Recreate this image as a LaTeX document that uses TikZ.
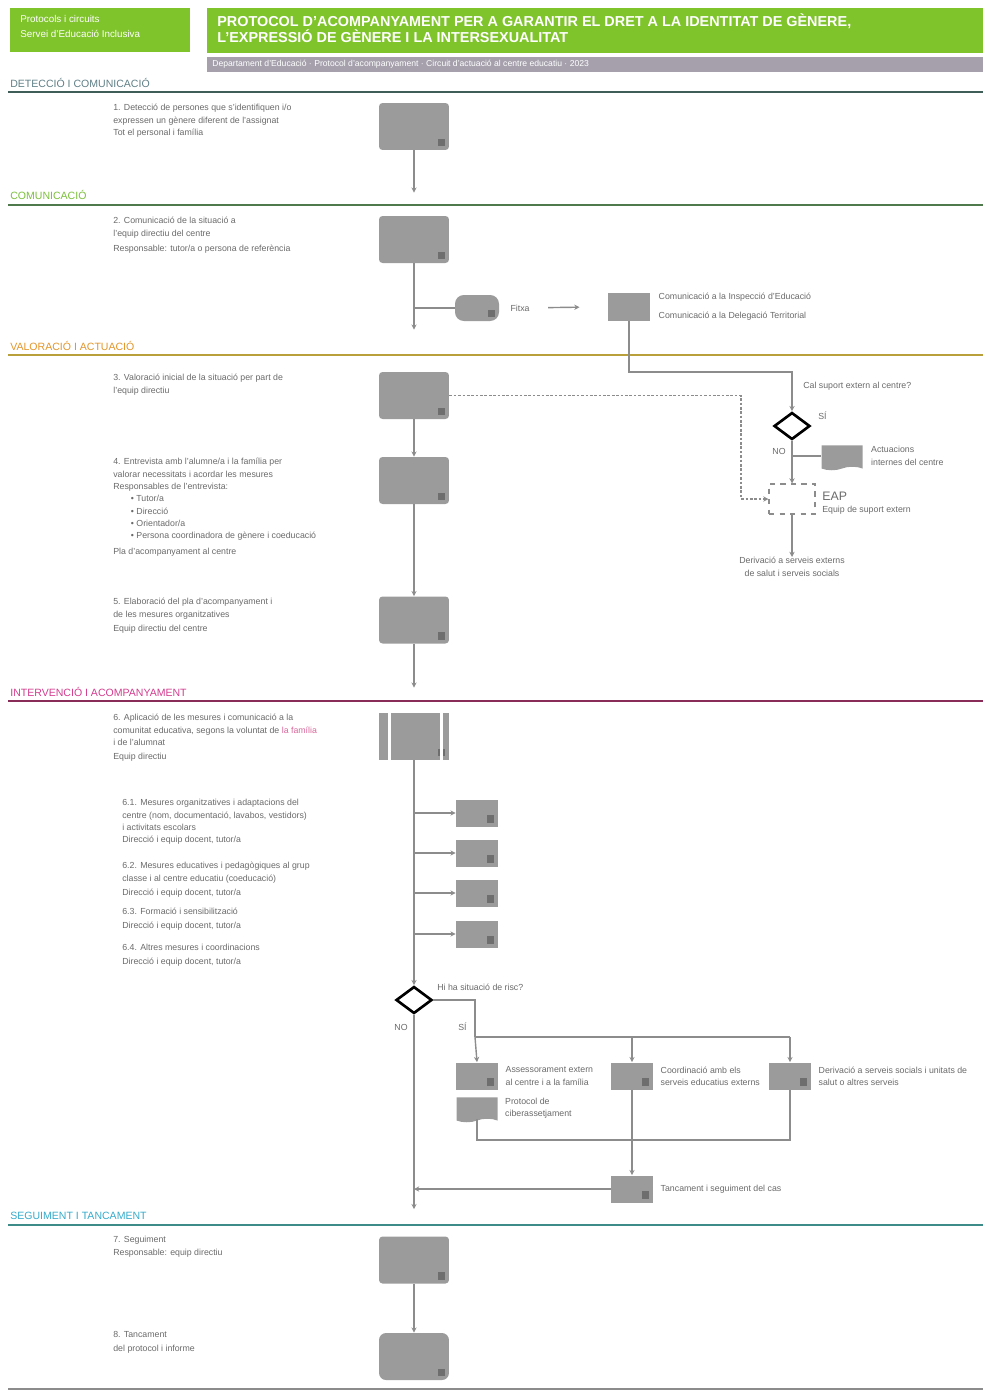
\documentclass[tikz,border=0pt]{standalone}
\usepackage{fontspec}
\setmainfont{Liberation Sans}
\usepackage{xcolor}
\definecolor{protGreen}{HTML}{7FC42B}
\definecolor{protBar}{HTML}{A5A0AC}
\definecolor{boxGray}{HTML}{9B9B9B}
\definecolor{iconGray}{HTML}{6E6E6E}
\definecolor{lineGray}{HTML}{8C8C8C}
\definecolor{textGray}{HTML}{6A6A6A}
\definecolor{secTeal}{HTML}{3F5E58}
\definecolor{secTealTxt}{HTML}{5F7F86}
\definecolor{secGreen}{HTML}{4F7A4C}
\definecolor{secGreenTxt}{HTML}{7BBF3A}
\definecolor{secGold}{HTML}{B9A03A}
\definecolor{secGoldTxt}{HTML}{E2952A}
\definecolor{secWine}{HTML}{8A2C58}
\definecolor{secWineTxt}{HTML}{D23C8E}
\definecolor{secCyan}{HTML}{3E8C8A}
\definecolor{secCyanTxt}{HTML}{35AACB}
\definecolor{linkPink}{HTML}{D9679B}
\usepackage{tikz}
\usetikzlibrary{positioning, arrows.meta, shapes.geometric, shapes.symbols}

\begin{document}
\begin{tikzpicture}[
  x=0.02cm, y=-0.02cm,
  every node/.style={font=\fontsize{5}{7}\selectfont, text=textGray},
  note/.style={align=left, anchor=north west, inner sep=0pt},
  withicon/.style={path picture={\fill[iconGray, sharp corners]
      ([shift={(-6pt,2pt)}]path picture bounding box.south east) rectangle ++(3.5pt,4.5pt);}},
  stepbox/.style={rectangle, fill=boxGray, rounded corners=2pt, withicon,
                  minimum width=1.4cm, minimum height=0.94cm, inner sep=0pt},
  smallbox/.style={rectangle, fill=boxGray, withicon,
                   minimum width=0.84cm, minimum height=0.54cm, inner sep=0pt},
  docbox/.style={tape, tape bend top=none, tape bend height=2pt, fill=boxGray,
                 minimum width=0.82cm, minimum height=0.5cm, inner sep=0pt},
  choice/.style={diamond, draw=black, line width=1.5pt, fill=white,
                 minimum width=0.72cm, minimum height=0.54cm, inner sep=0pt},
  conn/.style={draw=lineGray, line width=0.8pt},
  flow/.style={conn, -{Stealth[length=3pt, width=3pt]}},
  dotline/.style={flow, dash pattern=on 1.5pt off 1pt},
  secline/.style={line width=1.6pt},
  seclabel/.style={anchor=south west, inner sep=0pt, font=\fontsize{6}{6.5}\selectfont},
]
\useasboundingbox (0,0) rectangle (986,1393);

% Header
\node[fill=protGreen, anchor=north west, minimum width=3.6cm, minimum height=0.88cm,
      inner sep=0pt] (hdrL) at (10,8) {};
\node[note, text=white, font=\fontsize{5.6}{8.5}\selectfont] (hdrLtxt) at (20,15)
      {Protocols i circuits\\Servei d'Educació Inclusiva};
\node[fill=protGreen, anchor=north west, minimum width=15.52cm, minimum height=0.9cm,
      inner sep=0pt] (hdrT) at (207,8) {};
\node[note, text=white, font=\fontsize{8.2}{9.4}\selectfont\bfseries] (title) at (217,13)
      {PROTOCOL D'ACOMPANYAMENT PER A GARANTIR EL DRET A LA IDENTITAT DE GÈNERE,\\
       L'EXPRESSIÓ DE GÈNERE I LA INTERSEXUALITAT};
\node[fill=protBar, anchor=north west, minimum width=15.52cm, minimum height=0.3cm,
      inner sep=0pt] (hdrBar) at (207,57) {};
\node[note, anchor=west, text=white, font=\fontsize{4.9}{5}\selectfont] (barTxt) at (212,64.5)
      {Departament d'Educació · Protocol d'acompanyament · Circuit d'actuació al centre educatiu · 2023};

% Sections
\draw[secline, secTeal] (8,92) -- (983,92);
\node[seclabel, text=secTealTxt] (sec1) at (10,88) {DETECCIÓ I COMUNICACIÓ};
\draw[secline, secGreen] (8,205) -- (983,205);
\node[seclabel, text=secGreenTxt] (sec2) at (10,200) {COMUNICACIÓ};
\draw[secline, secGold] (8,355) -- (983,355);
\node[seclabel, text=secGoldTxt] (sec3) at (10,351) {VALORACIÓ I ACTUACIÓ};
\draw[secline, secWine] (8,701) -- (983,701);
\node[seclabel, text=secWineTxt] (sec4) at (10,697) {INTERVENCIÓ I ACOMPANYAMENT};
\draw[secline, secCyan] (8,1225) -- (983,1225);
\node[seclabel, text=secCyanTxt] (sec5) at (10,1220) {SEGUIMENT I TANCAMENT};
\draw[secline, lineGray] (8,1389) -- (983,1389);

% Main column
\node[stepbox] (b1) at (414,126.5) {};
\node[stepbox] (b2) at (414,239.5) {};
\node[stepbox] (b3) at (414,395.5) {};
\node[stepbox] (b4) at (414,480.5) {};
\node[stepbox] (b5) at (414,620) {};
\node[stepbox, rounded corners=0pt] (b6) at (414,736.5) {};
\draw[white, line width=1.4pt] ([xshift=0.22cm]b6.north west) -- ([xshift=0.22cm]b6.south west);
\draw[white, line width=1.4pt] ([xshift=-0.16cm]b6.north east) -- ([xshift=-0.16cm]b6.south east);
\node[choice] (d2) at (414,1000) {};
\node[stepbox] (b7) at (414,1260) {};
\node[stepbox, rounded corners=4pt] (b8) at (414,1356.5) {};

% Step texts
\node[note] (t1) at (113,104) {1. Detecció de persones que s'identifiquen i/o\\
  expressen un gènere diferent de l'assignat\\Tot el personal i família};
\node[note] (t2) at (113,217) {2. Comunicació de la situació a\\
  l'equip directiu del centre\\[1.5pt]Responsable: tutor/a o persona de referència};
\node[note] (t3) at (113,374) {3. Valoració inicial de la situació per part de\\l'equip directiu};
\node[note] (t4) at (113,458) {4. Entrevista amb l'alumne/a i la família per\\
  valorar necessitats i acordar les mesures\\Responsables de l'entrevista:\\
  \hspace{10pt}• Tutor/a\\\hspace{10pt}• Direcció\\\hspace{10pt}• Orientador/a\\
  \hspace{10pt}• Persona coordinadora de gènere i coeducació\\[2pt]Pla d'acompanyament al centre};
\node[note] (t5) at (113,598) {5. Elaboració del pla d'acompanyament i\\
  de les mesures organitzatives\\[1pt]Equip directiu del centre};
\node[note] (t6) at (113,714) {6. Aplicació de les mesures i comunicació a la\\
  comunitat educativa, segons la voluntat de {\color{linkPink}la família}\\i de l'alumnat\\[1pt]Equip directiu};
\node[note] (t7) at (122,799) {6.1. Mesures organitzatives i adaptacions del\\
  centre (nom, documentació, lavabos, vestidors)\\i activitats escolars\\Direcció i equip docent, tutor/a};
\node[note] (t8) at (122,862) {6.2. Mesures educatives i pedagògiques al grup\\
  classe i al centre educatiu (coeducació)\\[1pt]Direcció i equip docent, tutor/a};
\node[note] (t9) at (122,908) {6.3. Formació i sensibilització\\[1pt]Direcció i equip docent, tutor/a};
\node[note] (t10) at (122,944) {6.4. Altres mesures i coordinacions\\[1pt]Direcció i equip docent, tutor/a};
\node[note] (t11) at (113,1236) {7. Seguiment\\Responsable: equip directiu};
\node[note] (t12) at (113,1331) {8. Tancament\\[1pt]del protocol i informe};

% Communication branch
\node[stepbox, minimum width=0.88cm, minimum height=0.52cm, rounded corners=5pt] (reg) at (477,308) {};
\node[right=0.1cm of reg] (regtxt) {Fitxa};
\node[smallbox, minimum height=0.56cm, path picture={}] (c1) at (629,306.5) {};
\node[note, right=0.16cm of c1] (c1txt) {Comunicació a la Inspecció d'Educació\\[4pt]Comunicació a la Delegació Territorial};

% External support branch
\coordinate (turnA) at (792,372);
\coordinate (kink) at (741,391);
\node[choice] (d1) at (792,426) {};
\node[note, anchor=west] (q1) at (803,386) {Cal suport extern al centre?};
\node[anchor=west, inner sep=0pt] (d1yes) at (818,416) {SÍ};
\node[anchor=east, inner sep=0pt] (d1no) at (786,451) {NO};
\node[docbox] (act) at (842,456) {};
\node[note, right=0.16cm of act] (acttxt) {Actuacions\\internes del centre};
\node[rectangle, draw=lineGray, dashed, line width=0.6pt, minimum width=0.92cm,
      minimum height=0.6cm] (eap) at (792,499) {};
\node[anchor=west, inner sep=0pt, font=\fontsize{7}{8}\selectfont] (eaptxt) at (822,496) {EAP};
\node[anchor=west, inner sep=0pt] (eapsub) at (822,510) {Equip de suport extern};
\node[note, anchor=north, align=center] (ext) at (792,557) {Derivació a serveis externs\\de salut i serveis socials};

% Actions
\node[smallbox] (s1) at (477,813) {};
\node[smallbox] (s2) at (477,853) {};
\node[smallbox] (s3) at (477,893) {};
\node[smallbox] (s4) at (477,934) {};

% Risk decision
\node[note, anchor=west] (q2) at (437,987) {Hi ha situació de risc?};
\node[anchor=east, inner sep=0pt] (d2no) at (408,1027) {NO};
\node[anchor=west, inner sep=0pt] (d2yes) at (458,1027) {SÍ};
\coordinate (split) at (475,1037);
\coordinate (merge) at (632,1140);
\node[smallbox] (r1) at (477,1076) {};
\node[note, right=0.14cm of r1] (r1txt) {Assessorament extern\\al centre i a la família};
\node[docbox] (r1b) at (477,1108) {};
\node[note, right=0.14cm of r1b] (r1btxt) {Protocol de\\ciberassetjament};
\node[smallbox] (r2) at (632,1076) {};
\node[note, right=0.14cm of r2] (r2txt) {Coordinació amb els\\serveis educatius externs};
\node[smallbox] (r3) at (790,1076) {};
\node[note, right=0.14cm of r3] (r3txt) {Derivació a serveis socials i unitats de\\salut o altres serveis};
\node[smallbox] (r4) at (632,1189) {};
\node[note, right=0.14cm of r4] (r4txt) {Tancament i seguiment del cas};

% Arrows
\draw[flow, shorten >=0.46cm] (b1) -- (b2);
\draw[flow, shorten >=0.84cm] (b2) -- (b3);
\draw[flow] (b3) -- (b4);
\draw[flow] (b4) -- (b5);
\draw[flow, shorten >=0.5cm] (b5) -- (b6);
\draw[flow] (b6) -- (d2);
\draw[flow, shorten >=0.54cm] (d2) -- (b7);
\draw[flow] (b7) -- (b8);

\draw[conn] (b2.south |- reg.west) -- (reg.west);
\draw[flow, shorten <=7pt, shorten >=16pt] (regtxt) -- (c1);
\draw[flow] (c1.south) |- (turnA) -- (d1.north);
\draw[dotline] (b3.east) -- (b3.east -| kink) |- (eap.west);
\draw[flow] (d1.south) -- (eap.north);
\draw[conn] (d1.south |- act.west) -- (act.west);
\draw[flow] (eap.south) -- (ext.north);

\foreach \s in {s1,s2,s3,s4}
  \draw[flow] (b6.south |- \s.west) -- (\s.west);

\draw[conn] (d2.east) -| (split);
\draw[conn] (split) -- (split -| r3.north);
\draw[flow] (split) -- (r1.north);
\draw[flow] (split -| r2.north) -- (r2.north);
\draw[flow] (split -| r3.north) -- (r3.north);
\draw[conn] (r1b.south) |- (merge) -| (r3.south);
\draw[flow] (r2.south) -- (r4.north);
\draw[flow] (r4.west) -- (r4.west -| d2.south);

\end{tikzpicture}
\end{document}
